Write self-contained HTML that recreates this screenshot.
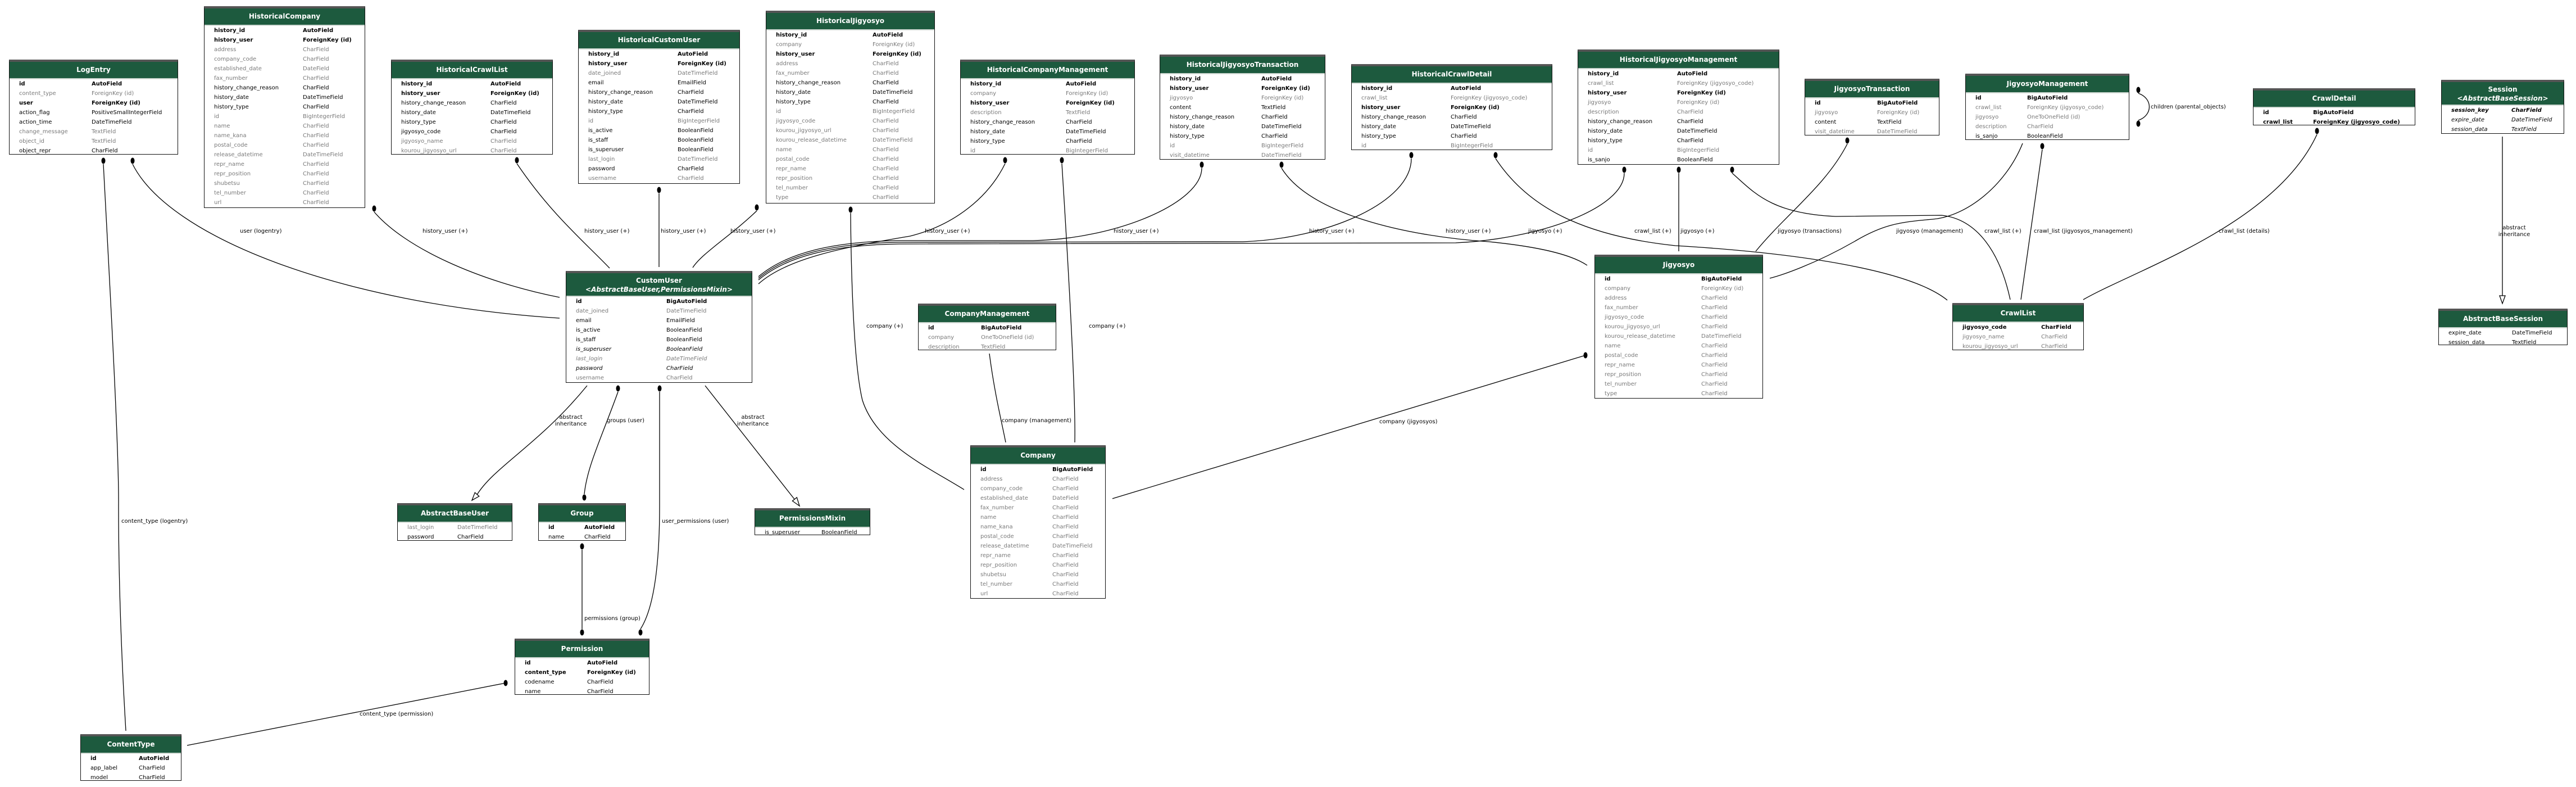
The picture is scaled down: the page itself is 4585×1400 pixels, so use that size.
<!DOCTYPE html>
<html><head><meta charset="utf-8"><style>
html,body{margin:0;padding:0;background:#fff}
body{width:4585px;height:1400px;position:relative;overflow:hidden;font-family:"DejaVu Sans","Liberation Sans",sans-serif}
.t{position:absolute;box-sizing:border-box;border:1.5px solid #111;border-top:4px solid #555;background:#fff;font-size:10px}
.h{background:#1d5a3e;color:#fff;font-weight:bold;font-size:12px;text-align:center;height:29px;line-height:29px;border-bottom:2px solid #cfd8d2}
.h2{height:42px;line-height:16px;padding-top:5px;box-sizing:border-box}
.h2 em{font-style:italic}
.t p{position:relative;height:17px;line-height:17px;margin:0}
.t p span{position:absolute;left:17px;white-space:nowrap}
.t p span+span{left:var(--c)}
.b{font-weight:bold;color:#000}.n{color:#000}.g{color:#7a7a7a}.i{font-style:italic;color:#000}.ig{font-style:italic;color:#7a7a7a}.ib{font-style:italic;font-weight:bold;color:#000}
svg{position:absolute;left:0;top:0}
svg text{font-family:"DejaVu Sans","Liberation Sans",sans-serif;font-size:10px;fill:#000}
</style></head><body>
<svg width="4585" height="1400" fill="none" stroke="#000" stroke-width="1.3">
<path d="M184,292 C195,500 212,800 211,900 C211,1050 218,1200 224,1300"/>
<path d="M236,292 C300,420 600,540 996,566"/>
<path d="M666,377 C720,440 850,500 996,529"/>
<path d="M920,291 C980,380 1040,430 1085,477"/>
<path d="M1173,344 L1173,475"/>
<path d="M1347,375 C1300,420 1250,450 1233,476"/>
<path d="M1514,379 C1515,500 1520,650 1535,712 C1560,790 1650,830 1716,871"/>
<path d="M1789,291 C1760,350 1700,400 1620,420 C1500,440 1400,460 1350,505"/>
<path d="M2139,299 C2139,360 1989,425 1839,428 L1600,428 C1480,430 1400,450 1350,492"/>
<path d="M2512,282 C2512,360 2362,425 2212,430 L1600,431 C1480,433 1400,453 1350,495"/>
<path d="M2891,308 C2891,370 2741,425 2591,432 L1600,434 C1480,436 1400,456 1350,498"/>
<path d="M1890,291 C1900,450 1915,700 1913,787"/>
<path d="M2281,299 C2330,380 2500,420 2650,430 C2750,440 2800,455 2825,472"/>
<path d="M2662,282 C2720,370 2820,420 2982,437 C3200,450 3400,480 3466,534"/>
<path d="M2988,308 L2988,447"/>
<path d="M3083,308 C3120,340 3150,380 3267,385 L3456,383 C3520,390 3560,450 3578,533"/>
<path d="M3288,256 C3250,330 3180,380 3125,447"/>
<path d="M3600,255 C3570,330 3500,385 3440,390 C3380,395 3350,400 3300,430 C3230,470 3170,490 3150,495"/>
<path d="M3635,266 L3597,533"/>
<path d="M3806,166 C3832,175 3832,205 3806,214"/>
<path d="M4124,239 C4050,400 3800,480 3708,533"/>
<path d="M4454,243 L4454,526"/>
<path d="M1045,686 C960,790 880,830 849,880"/>
<path d="M1100,697 C1070,780 1045,830 1040,879"/>
<path d="M1174,697 L1174,900 C1174,1000 1165,1080 1140,1119"/>
<path d="M1255,686 L1414,888"/>
<path d="M1036,978 L1036,1119"/>
<path d="M900,1215 L333,1326"/>
<path d="M1761,629 C1770,700 1785,760 1790,787"/>
<path d="M2822,632 L1980,887"/>
<polygon points="4449,526 4459,526 4454,540" fill="#fff"/>
<polygon points="840,890 852.8,882.8 845.3,876.2" fill="#fff"/>
<polygon points="1423,900 1418.3,884.9 1410.4,891.1" fill="#fff"/>
<g fill="#000" stroke="none">
<ellipse cx="184" cy="286" rx="3.5" ry="5.5"/><ellipse cx="236" cy="286" rx="3.5" ry="5.5"/><ellipse cx="666" cy="371" rx="3.5" ry="5.5"/><ellipse cx="920" cy="285" rx="3.5" ry="5.5"/><ellipse cx="1173" cy="338" rx="3.5" ry="5.5"/><ellipse cx="1347" cy="369" rx="3.5" ry="5.5"/><ellipse cx="1514" cy="373" rx="3.5" ry="5.5"/><ellipse cx="1789" cy="285" rx="3.5" ry="5.5"/><ellipse cx="1890" cy="285" rx="3.5" ry="5.5"/><ellipse cx="2139" cy="293" rx="3.5" ry="5.5"/><ellipse cx="2281" cy="293" rx="3.5" ry="5.5"/><ellipse cx="2512" cy="276" rx="3.5" ry="5.5"/><ellipse cx="2662" cy="276" rx="3.5" ry="5.5"/><ellipse cx="2891" cy="302" rx="3.5" ry="5.5"/><ellipse cx="2988" cy="302" rx="3.5" ry="5.5"/><ellipse cx="3083" cy="302" rx="3.5" ry="5.5"/><ellipse cx="3288" cy="250" rx="3.5" ry="5.5"/><ellipse cx="3635" cy="260" rx="3.5" ry="5.5"/><ellipse cx="3806" cy="160" rx="3.5" ry="5.5"/><ellipse cx="3806" cy="220" rx="3.5" ry="5.5"/><ellipse cx="4124" cy="233" rx="3.5" ry="5.5"/><ellipse cx="1100" cy="691" rx="3.5" ry="5.5"/><ellipse cx="1174" cy="691" rx="3.5" ry="5.5"/><ellipse cx="1040" cy="885" rx="3.5" ry="5.5"/><ellipse cx="1036" cy="972" rx="3.5" ry="5.5"/><ellipse cx="1036" cy="1125" rx="3.5" ry="5.5"/><ellipse cx="1140" cy="1125" rx="3.5" ry="5.5"/><ellipse cx="900" cy="1215" rx="3.5" ry="5.5"/><ellipse cx="2822" cy="632" rx="3.5" ry="5.5"/>
</g>
<g stroke="none">
<text x="216" y="930">content_type (logentry)</text>
<text x="427" y="414">user (logentry)</text>
<text x="752" y="414">history_user (+)</text>
<text x="1040" y="414">history_user (+)</text>
<text x="1176" y="414">history_user (+)</text>
<text x="1300" y="414">history_user (+)</text>
<text x="1646" y="414">history_user (+)</text>
<text x="1982" y="414">history_user (+)</text>
<text x="2330" y="414">history_user (+)</text>
<text x="2573" y="414">history_user (+)</text>
<text x="1542" y="583">company (+)</text>
<text x="1938" y="583">company (+)</text>
<text x="2720" y="414">jigyosyo (+)</text>
<text x="2909" y="414">crawl_list (+)</text>
<text x="2991" y="414">jigyosyo (+)</text>
<text x="3164" y="414">jigyosyo (transactions)</text>
<text x="3375" y="414">jigyosyo (management)</text>
<text x="3532" y="414">crawl_list (+)</text>
<text x="3620" y="414">crawl_list (jigyosyos_management)</text>
<text x="3828" y="193">children (parental_objects)</text>
<text x="3949" y="414">crawl_list (details)</text>
<text x="4475" y="408" text-anchor="middle">abstract</text><text x="4475" y="420" text-anchor="middle">inheritance</text>
<text x="1016" y="745" text-anchor="middle">abstract</text><text x="1016" y="757" text-anchor="middle">inheritance</text>
<text x="1340" y="745" text-anchor="middle">abstract</text><text x="1340" y="757" text-anchor="middle">inheritance</text>
<text x="1080" y="751">groups (user)</text>
<text x="1178" y="930">user_permissions (user)</text>
<text x="1040" y="1103">permissions (group)</text>
<text x="640" y="1273">content_type (permission)</text>
<text x="1783" y="751">company (management)</text>
<text x="2455" y="753">company (jigyosyos)</text>
</g>
</svg>

<div class="t" style="left:16px;top:106px;width:301px;height:169px;--c:146px"><div class="h">LogEntry</div>
<p class="b"><span>id</span><span>AutoField</span></p>
<p class="g"><span>content_type</span><span>ForeignKey (id)</span></p>
<p class="b"><span>user</span><span>ForeignKey (id)</span></p>
<p class="n"><span>action_flag</span><span>PositiveSmallIntegerField</span></p>
<p class="n"><span>action_time</span><span>DateTimeField</span></p>
<p class="g"><span>change_message</span><span>TextField</span></p>
<p class="g"><span>object_id</span><span>TextField</span></p>
<p class="n"><span>object_repr</span><span>CharField</span></p>
</div>

<div class="t" style="left:363px;top:11px;width:287px;height:359px;--c:175px"><div class="h">HistoricalCompany</div>
<p class="b"><span>history_id</span><span>AutoField</span></p>
<p class="b"><span>history_user</span><span>ForeignKey (id)</span></p>
<p class="g"><span>address</span><span>CharField</span></p>
<p class="g"><span>company_code</span><span>CharField</span></p>
<p class="g"><span>established_date</span><span>DateField</span></p>
<p class="g"><span>fax_number</span><span>CharField</span></p>
<p class="n"><span>history_change_reason</span><span>CharField</span></p>
<p class="n"><span>history_date</span><span>DateTimeField</span></p>
<p class="n"><span>history_type</span><span>CharField</span></p>
<p class="g"><span>id</span><span>BigIntegerField</span></p>
<p class="g"><span>name</span><span>CharField</span></p>
<p class="g"><span>name_kana</span><span>CharField</span></p>
<p class="g"><span>postal_code</span><span>CharField</span></p>
<p class="g"><span>release_datetime</span><span>DateTimeField</span></p>
<p class="g"><span>repr_name</span><span>CharField</span></p>
<p class="g"><span>repr_position</span><span>CharField</span></p>
<p class="g"><span>shubetsu</span><span>CharField</span></p>
<p class="g"><span>tel_number</span><span>CharField</span></p>
<p class="g"><span>url</span><span>CharField</span></p>
</div>

<div class="t" style="left:696px;top:106px;width:288px;height:169px;--c:176px"><div class="h">HistoricalCrawlList</div>
<p class="b"><span>history_id</span><span>AutoField</span></p>
<p class="b"><span>history_user</span><span>ForeignKey (id)</span></p>
<p class="n"><span>history_change_reason</span><span>CharField</span></p>
<p class="n"><span>history_date</span><span>DateTimeField</span></p>
<p class="n"><span>history_type</span><span>CharField</span></p>
<p class="n"><span>jigyosyo_code</span><span>CharField</span></p>
<p class="g"><span>jigyosyo_name</span><span>CharField</span></p>
<p class="g"><span>kourou_jigyosyo_url</span><span>CharField</span></p>
</div>

<div class="t" style="left:1029px;top:53px;width:288px;height:274px;--c:176px"><div class="h">HistoricalCustomUser</div>
<p class="b"><span>history_id</span><span>AutoField</span></p>
<p class="b"><span>history_user</span><span>ForeignKey (id)</span></p>
<p class="g"><span>date_joined</span><span>DateTimeField</span></p>
<p class="n"><span>email</span><span>EmailField</span></p>
<p class="n"><span>history_change_reason</span><span>CharField</span></p>
<p class="n"><span>history_date</span><span>DateTimeField</span></p>
<p class="n"><span>history_type</span><span>CharField</span></p>
<p class="g"><span>id</span><span>BigIntegerField</span></p>
<p class="n"><span>is_active</span><span>BooleanField</span></p>
<p class="n"><span>is_staff</span><span>BooleanField</span></p>
<p class="n"><span>is_superuser</span><span>BooleanField</span></p>
<p class="g"><span>last_login</span><span>DateTimeField</span></p>
<p class="n"><span>password</span><span>CharField</span></p>
<p class="g"><span>username</span><span>CharField</span></p>
</div>

<div class="t" style="left:1363px;top:19px;width:301px;height:343px;--c:189px"><div class="h">HistoricalJigyosyo</div>
<p class="b"><span>history_id</span><span>AutoField</span></p>
<p class="g"><span>company</span><span>ForeignKey (id)</span></p>
<p class="b"><span>history_user</span><span>ForeignKey (id)</span></p>
<p class="g"><span>address</span><span>CharField</span></p>
<p class="g"><span>fax_number</span><span>CharField</span></p>
<p class="n"><span>history_change_reason</span><span>CharField</span></p>
<p class="n"><span>history_date</span><span>DateTimeField</span></p>
<p class="n"><span>history_type</span><span>CharField</span></p>
<p class="g"><span>id</span><span>BigIntegerField</span></p>
<p class="g"><span>jigyosyo_code</span><span>CharField</span></p>
<p class="g"><span>kourou_jigyosyo_url</span><span>CharField</span></p>
<p class="g"><span>kourou_release_datetime</span><span>DateTimeField</span></p>
<p class="g"><span>name</span><span>CharField</span></p>
<p class="g"><span>postal_code</span><span>CharField</span></p>
<p class="g"><span>repr_name</span><span>CharField</span></p>
<p class="g"><span>repr_position</span><span>CharField</span></p>
<p class="g"><span>tel_number</span><span>CharField</span></p>
<p class="g"><span>type</span><span>CharField</span></p>
</div>

<div class="t" style="left:1709px;top:106px;width:311px;height:169px;--c:187px"><div class="h">HistoricalCompanyManagement</div>
<p class="b"><span>history_id</span><span>AutoField</span></p>
<p class="g"><span>company</span><span>ForeignKey (id)</span></p>
<p class="b"><span>history_user</span><span>ForeignKey (id)</span></p>
<p class="g"><span>description</span><span>TextField</span></p>
<p class="n"><span>history_change_reason</span><span>CharField</span></p>
<p class="n"><span>history_date</span><span>DateTimeField</span></p>
<p class="n"><span>history_type</span><span>CharField</span></p>
<p class="g"><span>id</span><span>BigIntegerField</span></p>
</div>

<div class="t" style="left:2064px;top:97px;width:295px;height:187px;--c:180px"><div class="h">HistoricalJigyosyoTransaction</div>
<p class="b"><span>history_id</span><span>AutoField</span></p>
<p class="b"><span>history_user</span><span>ForeignKey (id)</span></p>
<p class="g"><span>jigyosyo</span><span>ForeignKey (id)</span></p>
<p class="n"><span>content</span><span>TextField</span></p>
<p class="n"><span>history_change_reason</span><span>CharField</span></p>
<p class="n"><span>history_date</span><span>DateTimeField</span></p>
<p class="n"><span>history_type</span><span>CharField</span></p>
<p class="g"><span>id</span><span>BigIntegerField</span></p>
<p class="g"><span>visit_datetime</span><span>DateTimeField</span></p>
</div>

<div class="t" style="left:2405px;top:114px;width:358px;height:153px;--c:176px"><div class="h">HistoricalCrawlDetail</div>
<p class="b"><span>history_id</span><span>AutoField</span></p>
<p class="g"><span>crawl_list</span><span>ForeignKey (jigyosyo_code)</span></p>
<p class="b"><span>history_user</span><span>ForeignKey (id)</span></p>
<p class="n"><span>history_change_reason</span><span>CharField</span></p>
<p class="n"><span>history_date</span><span>DateTimeField</span></p>
<p class="n"><span>history_type</span><span>CharField</span></p>
<p class="g"><span>id</span><span>BigIntegerField</span></p>
</div>

<div class="t" style="left:2808px;top:88px;width:359px;height:205px;--c:176px"><div class="h">HistoricalJigyosyoManagement</div>
<p class="b"><span>history_id</span><span>AutoField</span></p>
<p class="g"><span>crawl_list</span><span>ForeignKey (jigyosyo_code)</span></p>
<p class="b"><span>history_user</span><span>ForeignKey (id)</span></p>
<p class="g"><span>jigyosyo</span><span>ForeignKey (id)</span></p>
<p class="g"><span>description</span><span>CharField</span></p>
<p class="n"><span>history_change_reason</span><span>CharField</span></p>
<p class="n"><span>history_date</span><span>DateTimeField</span></p>
<p class="n"><span>history_type</span><span>CharField</span></p>
<p class="g"><span>id</span><span>BigIntegerField</span></p>
<p class="n"><span>is_sanjo</span><span>BooleanField</span></p>
</div>

<div class="t" style="left:3212px;top:140px;width:240px;height:101px;--c:128px"><div class="h">JigyosyoTransaction</div>
<p class="b"><span>id</span><span>BigAutoField</span></p>
<p class="g"><span>jigyosyo</span><span>ForeignKey (id)</span></p>
<p class="n"><span>content</span><span>TextField</span></p>
<p class="g"><span>visit_datetime</span><span>DateTimeField</span></p>
</div>

<div class="t" style="left:3498px;top:131px;width:292px;height:118px;--c:109px"><div class="h">JigyosyoManagement</div>
<p class="b"><span>id</span><span>BigAutoField</span></p>
<p class="g"><span>crawl_list</span><span>ForeignKey (jigyosyo_code)</span></p>
<p class="g"><span>jigyosyo</span><span>OneToOneField (id)</span></p>
<p class="g"><span>description</span><span>CharField</span></p>
<p class="n"><span>is_sanjo</span><span>BooleanField</span></p>
</div>

<div class="t" style="left:4010px;top:157px;width:289px;height:66px;--c:106px"><div class="h">CrawlDetail</div>
<p class="b"><span>id</span><span>BigAutoField</span></p>
<p class="b"><span>crawl_list</span><span>ForeignKey (jigyosyo_code)</span></p>
</div>

<div class="t" style="left:4345px;top:142px;width:219px;height:96px;--c:124px"><div class="h h2">Session<br><em>&lt;AbstractBaseSession&gt;</em></div>
<p class="ib"><span>session_key</span><span>CharField</span></p>
<p class="i"><span>expire_date</span><span>DateTimeField</span></p>
<p class="i"><span>session_data</span><span>TextField</span></p>
</div>

<div class="t" style="left:1007px;top:482px;width:332px;height:199px;--c:178px"><div class="h h2">CustomUser<br><em>&lt;AbstractBaseUser,PermissionsMixin&gt;</em></div>
<p class="b"><span>id</span><span>BigAutoField</span></p>
<p class="g"><span>date_joined</span><span>DateTimeField</span></p>
<p class="n"><span>email</span><span>EmailField</span></p>
<p class="n"><span>is_active</span><span>BooleanField</span></p>
<p class="n"><span>is_staff</span><span>BooleanField</span></p>
<p class="i"><span>is_superuser</span><span>BooleanField</span></p>
<p class="ig"><span>last_login</span><span>DateTimeField</span></p>
<p class="i"><span>password</span><span>CharField</span></p>
<p class="g"><span>username</span><span>CharField</span></p>
</div>

<div class="t" style="left:1634px;top:540px;width:246px;height:83px;--c:111px"><div class="h">CompanyManagement</div>
<p class="b"><span>id</span><span>BigAutoField</span></p>
<p class="g"><span>company</span><span>OneToOneField (id)</span></p>
<p class="g"><span>description</span><span>TextField</span></p>
</div>

<div class="t" style="left:1727px;top:792px;width:241px;height:273px;--c:145px"><div class="h">Company</div>
<p class="b"><span>id</span><span>BigAutoField</span></p>
<p class="g"><span>address</span><span>CharField</span></p>
<p class="g"><span>company_code</span><span>CharField</span></p>
<p class="g"><span>established_date</span><span>DateField</span></p>
<p class="g"><span>fax_number</span><span>CharField</span></p>
<p class="g"><span>name</span><span>CharField</span></p>
<p class="g"><span>name_kana</span><span>CharField</span></p>
<p class="g"><span>postal_code</span><span>CharField</span></p>
<p class="g"><span>release_datetime</span><span>DateTimeField</span></p>
<p class="g"><span>repr_name</span><span>CharField</span></p>
<p class="g"><span>repr_position</span><span>CharField</span></p>
<p class="g"><span>shubetsu</span><span>CharField</span></p>
<p class="g"><span>tel_number</span><span>CharField</span></p>
<p class="g"><span>url</span><span>CharField</span></p>
</div>

<div class="t" style="left:2838px;top:453px;width:300px;height:256px;--c:189px"><div class="h">Jigyosyo</div>
<p class="b"><span>id</span><span>BigAutoField</span></p>
<p class="g"><span>company</span><span>ForeignKey (id)</span></p>
<p class="g"><span>address</span><span>CharField</span></p>
<p class="g"><span>fax_number</span><span>CharField</span></p>
<p class="g"><span>jigyosyo_code</span><span>CharField</span></p>
<p class="g"><span>kourou_jigyosyo_url</span><span>CharField</span></p>
<p class="g"><span>kourou_release_datetime</span><span>DateTimeField</span></p>
<p class="g"><span>name</span><span>CharField</span></p>
<p class="g"><span>postal_code</span><span>CharField</span></p>
<p class="g"><span>repr_name</span><span>CharField</span></p>
<p class="g"><span>repr_position</span><span>CharField</span></p>
<p class="g"><span>tel_number</span><span>CharField</span></p>
<p class="g"><span>type</span><span>CharField</span></p>
</div>

<div class="t" style="left:3475px;top:539px;width:234px;height:84px;--c:157px"><div class="h">CrawlList</div>
<p class="b"><span>jigyosyo_code</span><span>CharField</span></p>
<p class="g"><span>jigyosyo_name</span><span>CharField</span></p>
<p class="g"><span>kourou_jigyosyo_url</span><span>CharField</span></p>
</div>

<div class="t" style="left:4340px;top:549px;width:230px;height:65px;--c:130px"><div class="h">AbstractBaseSession</div>
<p class="n"><span>expire_date</span><span>DateTimeField</span></p>
<p class="n"><span>session_data</span><span>TextField</span></p>
</div>

<div class="t" style="left:707px;top:895px;width:205px;height:67px;--c:106px"><div class="h">AbstractBaseUser</div>
<p class="g"><span>last_login</span><span>DateTimeField</span></p>
<p class="n"><span>password</span><span>CharField</span></p>
</div>

<div class="t" style="left:958px;top:895px;width:156px;height:67px;--c:81px"><div class="h">Group</div>
<p class="b"><span>id</span><span>AutoField</span></p>
<p class="n"><span>name</span><span>CharField</span></p>
</div>

<div class="t" style="left:1343px;top:904px;width:206px;height:48px;--c:118px"><div class="h">PermissionsMixin</div>
<p class="n"><span>is_superuser</span><span>BooleanField</span></p>
</div>

<div class="t" style="left:916px;top:1136px;width:240px;height:100px;--c:128px"><div class="h">Permission</div>
<p class="b"><span>id</span><span>AutoField</span></p>
<p class="b"><span>content_type</span><span>ForeignKey (id)</span></p>
<p class="n"><span>codename</span><span>CharField</span></p>
<p class="n"><span>name</span><span>CharField</span></p>
</div>

<div class="t" style="left:143px;top:1306px;width:180px;height:83px;--c:103px"><div class="h">ContentType</div>
<p class="b"><span>id</span><span>AutoField</span></p>
<p class="n"><span>app_label</span><span>CharField</span></p>
<p class="n"><span>model</span><span>CharField</span></p>
</div>
</body></html>
